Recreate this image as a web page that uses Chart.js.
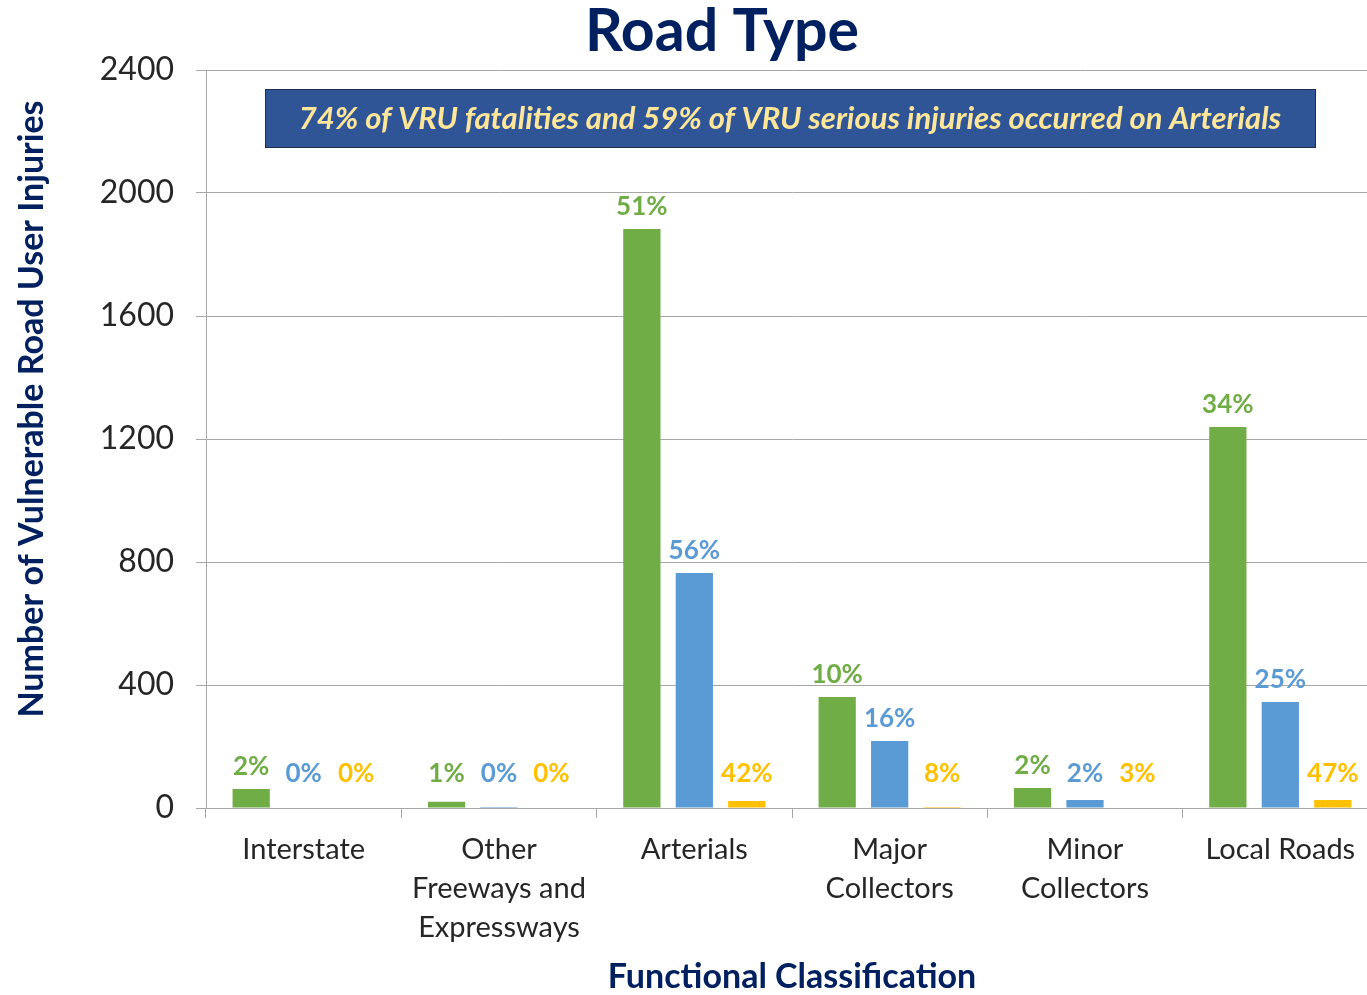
<!DOCTYPE html>
<html>
<head>
<meta charset="utf-8">
<script src="https://cdn.jsdelivr.net/npm/chart.js@4"></script>
<style>
  html, body { margin: 0; padding: 0; background: #fff; overflow: hidden; }
  #wrap { width: 1367px; height: 995px; position: relative; overflow: hidden; }
</style>
</head>
<body>
<div id="wrap"><canvas id="chart" width="1378" height="995"></canvas></div>
<script>
// Data
const categories = [
  ['Interstate'],
  ['Other', 'Freeways and', 'Expressways'],
  ['Arterials'],
  ['Major', 'Collectors'],
  ['Minor', 'Collectors'],
  ['Local Roads']
];
const seriesNames = ['All VRU Injuries', 'Serious Injuries', 'Fatalities'];
const greenValues = [62, 20, 1883, 361, 65, 1239];
const blueValues = [0, 3, 764, 218, 26, 345];
const yellowValues = [0, 0, 23, 3, 0, 26];
const greenLabels = ['2%', '1%', '51%', '10%', '2%', '34%'];
const blueLabels = ['0%', '0%', '56%', '16%', '2%', '25%'];
const yellowLabels = ['0%', '0%', '42%', '8%', '3%', '47%'];
const yTicks = [0, 400, 800, 1200, 1600, 2000, 2400];

const FONT = 'Lato, "Open Sans", sans-serif';
const NAVY = '#002060';
const colors = ['#70AD47', '#5B9BD5', '#FFC000'];

// Titles, callout box and percent labels
const decorations = {
  id: 'decorations',
  afterDatasetsDraw(chart) {
    const ctx = chart.ctx;
    ctx.save();

    // percentage labels above bars
    const labelSets = [greenLabels, blueLabels, yellowLabels];
    ctx.font = 'bold 26px ' + FONT;
    ctx.textAlign = 'center';
    ctx.textBaseline = 'middle';
    chart.data.datasets.forEach((ds, i) => {
      const meta = chart.getDatasetMeta(i);
      meta.data.forEach((bar, j) => {
        ctx.fillStyle = colors[i];
        const y = Math.min(bar.y - 22, 774);
        ctx.fillText(labelSets[i][j], bar.x, y);
      });
    });

    // callout box
    ctx.fillStyle = '#2F5597';
    ctx.fillRect(265, 89, 1050, 58);
    ctx.strokeStyle = '#1F2F4F';
    ctx.lineWidth = 1;
    ctx.strokeRect(265.5, 89.5, 1050, 58);
    ctx.fillStyle = '#FFE699';
    ctx.font = 'italic bold 31px ' + FONT;
    ctx.fillText('74% of VRU fatalities and 59% of VRU serious injuries occurred on Arterials', 790, 119);

    // chart title
    ctx.fillStyle = NAVY;
    ctx.font = 'bold 59px ' + FONT;
    ctx.fillText('Road Type', 722, 32);

    // x axis title
    ctx.font = 'bold 34px ' + FONT;
    ctx.fillText('Functional Classification', 792, 977);

    // y axis title
    ctx.translate(32, 409);
    ctx.rotate(-Math.PI / 2);
    ctx.font = 'bold 34px ' + FONT;
    ctx.fillText('Number of Vulnerable Road User Injuries', 0, 0);
    ctx.restore();
  }
};

const values = [greenValues, blueValues, yellowValues];
const datasets = seriesNames.map((name, i) => ({
  label: name,
  data: values[i],
  backgroundColor: colors[i],
  borderWidth: 0,
  categoryPercentage: 0.806,
  barPercentage: 0.71
}));

new Chart(document.getElementById('chart'), {
  type: 'bar',
  data: { labels: categories, datasets: datasets },
  options: {
    responsive: false,
    animation: false,
    layout: { padding: { top: 70, right: 0, left: 0, bottom: 0 } },
    plugins: {
      legend: { display: false },
      tooltip: { enabled: false }
    },
    scales: {
      x: {
        grid: {
          offset: true,
          drawOnChartArea: false,
          drawTicks: true,
          tickLength: 10,
          color: '#A6A6A6'
        },
        border: { color: '#A6A6A6', width: 1 },
        ticks: {
          color: '#262626',
          font: { family: FONT, size: 29, lineHeight: 1.35 },
          padding: 12,
          maxRotation: 0,
          autoSkip: false
        },
        afterFit(scale) { scale.height = 187; }
      },
      y: {
        min: 0,
        max: 2400,
        afterBuildTicks(scale) { scale.ticks = yTicks.map(v => ({ value: v })); },
        grid: { color: '#A6A6A6', tickLength: 10, lineWidth: 1 },
        border: { color: '#A6A6A6', width: 1 },
        ticks: {
          color: '#262626',
          font: { family: FONT, size: 32 },
          padding: 22,
          callback: v => String(v)
        },
        afterFit(scale) { scale.width = 206; }
      }
    }
  },
  plugins: [decorations]
});
</script>
</body>
</html>
